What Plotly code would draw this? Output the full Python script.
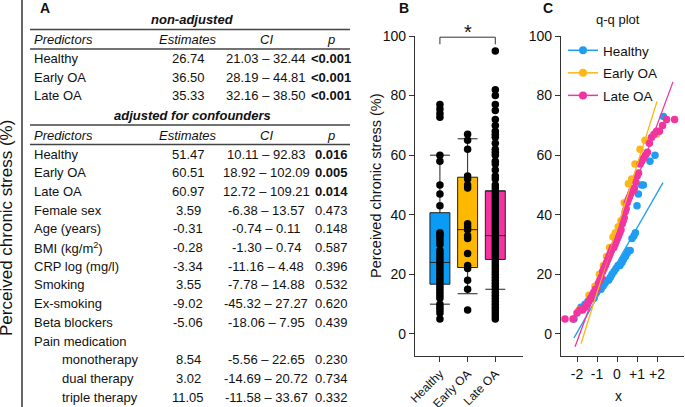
import plotly.graph_objects as go

W, H = 685, 407
FONT = "Arial, Liberation Sans, sans-serif"

# ---------------- Panel A: regression table ----------------
table_headers = ["Predictors", "Estimates", "CI", "p"]

nonadj_pred = ["Healthy", "Early OA", "Late OA"]
nonadj_est = ["26.74", "36.50", "35.33"]
nonadj_ci = ["21.03 – 32.44", "28.19 – 44.81", "32.16 – 38.50"]
nonadj_p = ["<0.001", "<0.001", "<0.001"]
nonadj_sig = [True, True, True]

adj_pred = ["Healthy", "Early OA", "Late OA", "Female sex", "Age (years)",
            "BMI (kg/m<sup>2</sup>)", "CRP log (mg/l)", "Smoking", "Ex-smoking",
            "Beta blockers", "Pain medication", "monotherapy", "dual therapy",
            "triple therapy"]
adj_indent = [False] * 11 + [True] * 3
adj_est = ["51.47", "60.51", "60.97", "3.59", "-0.31", "-0.28", "-3.34", "3.55",
           "-9.02", "-5.06", "", "8.54", "3.02", "11.05"]
adj_ci = ["10.11 – 92.83", "18.92 – 102.09", "12.72 – 109.21", "-6.38 – 13.57",
          "-0.74 – 0.11", "-1.30 – 0.74", "-11.16 – 4.48", "-7.78 – 14.88",
          "-45.32 – 27.27", "-18.06 – 7.95", "", "-5.56 – 22.65",
          "-14.69 – 20.72", "-11.58 – 33.67"]
adj_p = ["0.016", "0.005", "0.014", "0.473", "0.148", "0.587", "0.396", "0.532",
         "0.620", "0.439", "", "0.230", "0.734", "0.332"]
adj_sig = [True, True, True] + [False] * 11

# ---------------- Panel B: box plot ----------------
groups = ["Healthy", "Early OA", "Late OA"]
box_q1 = [16.7, 22.3, 25.0]
box_median = [24.0, 35.0, 33.0]
box_q3 = [40.7, 52.6, 48.0]
box_lower = [10.0, 13.5, 15.0]
box_upper = [60.0, 65.5, 48.0]
box_colors = ["#0A9BF5", "#FFB800", "#F3349F"]

dots_healthy = [77, 75.5, 74, 72.7, 60, 58, 50, 47, 43, 34, 33.5, 33, 32, 31,
                30, 28, 27, 26, 25, 24, 23, 22, 21, 20, 19, 18, 17, 16, 15, 14,
                13, 12, 10, 9, 8, 7, 5]
dots_early = [67, 65, 62, 53, 52, 50, 49, 37, 36, 35, 33, 32, 27, 23, 22, 18, 15, 8]
dots_late = [95, 82, 80, 77, 75, 72, 70, 68, 67, 66, 64, 62, 61, 60, 58, 57, 55,
             53, 52, 50, 49, 48, 47, 46, 45, 44, 43, 42, 41, 40, 39, 38, 37, 36,
             35, 34, 33, 32, 31, 30, 29, 28, 27, 26, 25, 24, 23, 22, 21, 20, 19,
             18, 17, 16, 15, 14, 13, 12, 11, 10, 9, 8, 7, 6, 5]
dots_all = [dots_healthy, dots_early, dots_late]

# ---------------- Panel C: q-q plot ----------------
qq_colors = ["#1E9DF2", "#FBB714", "#F2359E"]
qq_h_x = [-2.15, -1.8, -1.6, -1.45, -1.3, -1.15, -1.02, -0.92, -0.8, -0.7, -0.6,
          -0.5, -0.42, -0.33, -0.25, -0.15, -0.05, 0.05, 0.15, 0.25, 0.33, 0.42,
          0.5, 0.58, 0.66, 0.75, 0.85, 0.92, 1.0, 1.07, 1.23, 1.32, 1.65, 1.9, 2.32]
qq_h_y = [5, 9, 10, 11, 12, 12, 14, 15, 15, 16, 17, 18, 18, 19, 20, 21, 22, 23,
          23, 24, 25, 26, 27, 28, 28, 32, 33, 34, 43, 47, 50, 50, 58, 60, 73]
qq_e_x = [-1.9, -1.4, -1.1, -0.88, -0.68, -0.52, -0.37, -0.2, -0.08, 0.06, 0.2,
          0.36, 0.57, 0.73, 0.9, 1.15, 1.4, 1.98]
qq_e_y = [8, 13, 16, 20, 23, 26, 29, 32.5, 34, 36, 38, 44, 50.4, 52, 57, 62, 65, 67]
qq_l_x = [-2.6, -2.2, -2.0, -1.85, -1.72, -1.6, -1.5, -1.4, -1.32, -1.24, -1.16,
          -1.08, -1.0, -0.93, -0.86, -0.79, -0.72, -0.65, -0.58, -0.52, -0.46,
          -0.4, -0.34, -0.28, -0.22, -0.16, -0.1, -0.04, 0.02, 0.08, 0.14, 0.2,
          0.26, 0.31, 0.36, 0.41, 0.46, 0.51, 0.56, 0.62, 0.68, 0.74, 0.8, 0.87,
          0.94, 1.01, 1.08, 1.16, 1.24, 1.33, 1.42, 1.52, 1.62, 1.73, 1.85, 1.98,
          2.12, 2.28, 2.48, 2.88]
qq_l_y = [5, 5, 7, 8, 8, 9, 10, 11, 12, 13, 14, 15, 15, 17, 18, 19, 21, 22, 23,
          24, 25, 26, 27, 28, 29, 29, 30, 31, 32, 33, 34, 35, 37, 38, 39, 41, 42,
          44, 45, 46, 47, 48, 48, 49, 51, 53, 54, 57, 58, 59, 60, 61, 64, 66, 67,
          68, 68, 70, 72, 72]
qq_points_x = [qq_h_x, qq_e_x, qq_l_x]
qq_points_y = [qq_h_y, qq_e_y, qq_l_y]
qqline_x = [[-2.15, 2.3], [-1.8, 2.0], [-2.1, 2.8]]
qqline_y = [[-1.3, 50.8], [-3.3, 78.0], [-4.3, 84.6]]

y_ticks = [0, 20, 40, 60, 80, 100]
qq_tickvals = [-2, -1, 0, 1, 2]
qq_ticktext = ["-2", "-1", "0", "+1", "+2"]


def px(x):
    return x / W


def py(y):
    return 1 - y / H


fig = go.Figure()

# Panel B traces
for i, g in enumerate(groups):
    fig.add_trace(go.Box(
        x=[g], q1=[box_q1[i]], median=[box_median[i]], q3=[box_q3[i]],
        lowerfence=[box_lower[i]], upperfence=[box_upper[i]],
        fillcolor=box_colors[i], line=dict(color="#222222", width=1),
        whiskerwidth=1, width=0.72, boxpoints=False, showlegend=False,
        hoverinfo="skip", xaxis="x", yaxis="y"))
for i, g in enumerate(groups):
    fig.add_trace(go.Scatter(
        x=[g] * len(dots_all[i]), y=dots_all[i], mode="markers",
        marker=dict(color="black", size=7.5), showlegend=False,
        hoverinfo="skip", xaxis="x", yaxis="y"))

# Panel C traces
for i, g in enumerate(groups):
    fig.add_trace(go.Scatter(
        x=qq_points_x[i], y=qq_points_y[i], mode="markers",
        marker=dict(color=qq_colors[i], size=7.5), showlegend=False,
        hoverinfo="skip", xaxis="x2", yaxis="y2"))
for i, g in enumerate(groups):
    fig.add_trace(go.Scatter(
        x=qqline_x[i], y=qqline_y[i], mode="lines",
        line=dict(color=qq_colors[i], width=1.3), showlegend=False,
        hoverinfo="skip", xaxis="x2", yaxis="y2"))
for i, g in enumerate(groups):
    fig.add_trace(go.Scatter(
        x=[None], y=[None], mode="lines+markers", name=g, legendgroup=g,
        marker=dict(color=qq_colors[i], size=8),
        line=dict(color=qq_colors[i], width=1.5),
        xaxis="x2", yaxis="y2"))

shapes = []
annotations = []


def txt(x, y, text, size=13, anchor="left", **kw):
    annotations.append(dict(x=px(x), y=py(y), xref="paper", yref="paper",
                            text=text, showarrow=False, xanchor=anchor,
                            yanchor="middle",
                            font=dict(family=FONT, size=size, color="#111111"),
                            **kw))


def hline(x0, x1, y, w=1.3, color="#444444"):
    shapes.append(dict(type="line", xref="paper", yref="paper", x0=px(x0),
                       x1=px(x1), y0=py(y), y1=py(y),
                       line=dict(color=color, width=w)))


# Table layout positions (pixels)
col_pred, col_indent, col_est, col_ci, col_p = 32, 60, 188, 266, 331
line_x0, line_x1 = 30, 350
row_step = 18.7


def table_block(title_y, title, preds, ests, cis, ps, sigs, indents):
    txt(192, title_y, "<b><i>%s</i></b>" % title, anchor="center")
    hline(line_x0, line_x1, title_y + 9.5, w=1.5)
    hy = title_y + 19.5
    txt(col_pred, hy, "<i>%s</i>" % table_headers[0])
    txt(col_est, hy, "<i>%s</i>" % table_headers[1], anchor="center")
    txt(col_ci, hy, "<i>%s</i>" % table_headers[2], anchor="center")
    txt(col_p, hy, "<i>%s</i>" % table_headers[3], anchor="center")
    hline(line_x0, line_x1, hy + 9.5, w=1.3)
    y0 = hy + 19
    for k in range(len(preds)):
        yy = y0 + k * row_step
        txt(col_indent if indents[k] else col_pred, yy, preds[k])
        if ests[k]:
            txt(col_est, yy, ests[k], anchor="center")
            txt(col_ci, yy, cis[k], anchor="center")
            ptxt = ps[k].replace("<", "&lt;")
            txt(col_p, yy, "<b>%s</b>" % ptxt if sigs[k] else ptxt,
                anchor="center")


table_block(20, "non-adjusted", nonadj_pred, nonadj_est, nonadj_ci, nonadj_p,
            nonadj_sig, [False] * 3)
table_block(115.5, "adjusted for confounders", adj_pred, adj_est, adj_ci, adj_p,
            adj_sig, adj_indent)

# left vertical line and big axis title
shapes.append(dict(type="line", xref="paper", yref="paper", x0=px(22),
                   x1=px(22), y0=0, y1=1,
                   line=dict(color="#333333", width=1.5)))
annotations.append(dict(x=px(6), y=py(228), xref="paper", yref="paper",
                        text="Perceived chronic stress (%)", textangle=-90,
                        showarrow=False, xanchor="center", yanchor="middle",
                        font=dict(family=FONT, size=17, color="#111111")))

# panel letters
txt(38, 8, "<b>A</b>", size=14)
txt(397, 8, "<b>B</b>", size=14)
txt(541, 8, "<b>C</b>", size=14)

# Panel B y-title
annotations.append(dict(x=px(376), y=py(186), xref="paper", yref="paper",
                        text="Perceived chronic stress (%)", textangle=-90,
                        showarrow=False, xanchor="center", yanchor="middle",
                        font=dict(family=FONT, size=14.5, color="#111111")))

# significance bracket (data coords of panel B)
br_top, br_tip = 99.6, 97.2
shapes.append(dict(type="line", xref="x", yref="y", x0=groups[0],
                   x1=groups[2], y0=br_top, y1=br_top,
                   line=dict(color="#333333", width=1)))
for g in (groups[0], groups[2]):
    shapes.append(dict(type="line", xref="x", yref="y", x0=g, x1=g,
                       y0=br_top, y1=br_tip,
                       line=dict(color="#333333", width=1)))
annotations.append(dict(x=groups[1], y=br_top, xref="x", yref="y", text="*",
                        showarrow=False, yanchor="bottom", yshift=-8,
                        font=dict(family=FONT, size=20, color="#111111")))

# Panel C titles
txt(618, 20, "q-q plot", size=13, anchor="center")
txt(618, 396, "x", size=14, anchor="center")

y_dom = [py(356), py(36)]
axis_common = dict(showline=True, linecolor="#333333", linewidth=1.2,
                   ticks="outside", ticklen=5, tickcolor="#333333",
                   showgrid=False, zeroline=False, automargin=False,
                   tickfont=dict(family=FONT, size=14, color="#111111"))

fig.update_layout(
    width=W, height=H,
    margin=dict(l=0, r=0, t=0, b=0, autoexpand=False),
    paper_bgcolor="white", plot_bgcolor="white",
    font=dict(family=FONT),
    xaxis=dict(domain=[px(415), px(523)], type="category",
               categoryorder="array", categoryarray=groups,
               range=[-0.9, 3.0], tickangle=-45, anchor="y",
               **{**axis_common,
                  "tickfont": dict(family=FONT, size=12, color="#111111")}),
    yaxis=dict(domain=y_dom, range=[-7.4, 100], tickvals=y_ticks, anchor="x",
               **axis_common),
    xaxis2=dict(domain=[px(561), px(684)], range=[-2.8, 3.35],
                tickvals=qq_tickvals, ticktext=qq_ticktext, anchor="y2",
                **axis_common),
    yaxis2=dict(domain=y_dom, range=[-7.4, 100], tickvals=y_ticks,
                anchor="x2", **axis_common),
    showlegend=True,
    legend=dict(x=px(563), y=py(35), xanchor="left", yanchor="top",
                bgcolor="rgba(0,0,0,0)", borderwidth=0,
                font=dict(family=FONT, size=13.5, color="#111111"),
                itemwidth=30, traceorder="grouped", tracegroupgap=2),
    shapes=shapes,
    annotations=annotations,
)

fig.write_html("out.html", config={"displayModeBar": False},
               post_script="document.body.style.margin='0px';"
                           "document.body.style.overflow='hidden';")
